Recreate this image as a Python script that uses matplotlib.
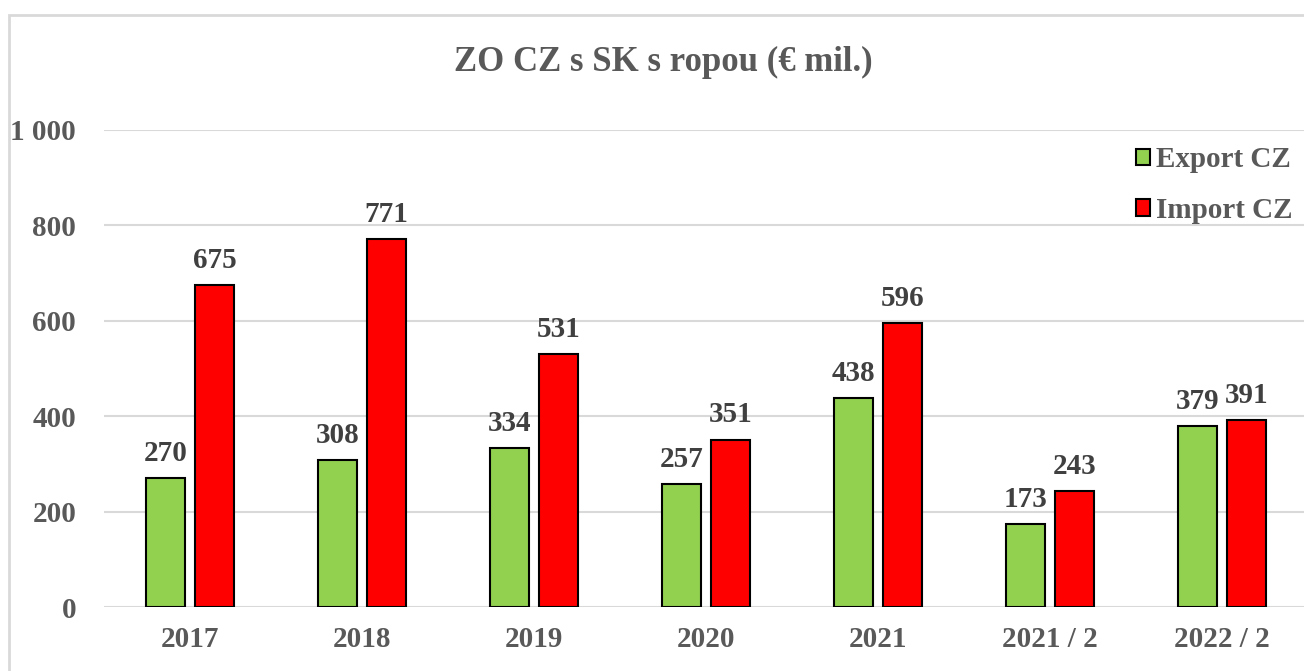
import numpy as np
import matplotlib.pyplot as plt
from matplotlib.patches import Rectangle

# Data
categories = ['2017', '2018', '2019', '2020', '2021', '2021 / 2', '2022 / 2']
export_cz = [270, 308, 334, 257, 438, 173, 379]
import_cz = [675, 771, 531, 351, 596, 243, 391]
yticks = [0, 200, 400, 600, 800, 1000]
ytick_labels = ['0', '200', '400', '600', '800', '1 000']

plt.rcParams['font.family'] = ['Liberation Serif', 'DejaVu Serif']
txt_color = '#595959'
lbl_color = '#404040'

fig = plt.figure(figsize=(13.04, 6.71), dpi=100)
ax = fig.add_axes([104 / 1304, 64 / 671, 1204 / 1304, 477 / 671])

x = np.arange(len(categories))
w = 0.23
off = 0.1425
b1 = ax.bar(x - off, export_cz, w, color='#92D050', edgecolor='black', linewidth=1.5,
            label='Export CZ', zorder=3)
b2 = ax.bar(x + off, import_cz, w, color='#FF0000', edgecolor='black', linewidth=1.5,
            label='Import CZ', zorder=3)

for bars in (b1, b2):
    ax.bar_label(bars, padding=8, fontsize=21, fontweight='bold', color=lbl_color)

ax.set_xlim(-0.5, len(categories) - 0.5)
ax.set_ylim(0, 1000)
ax.set_yticks(yticks)
ax.set_yticklabels(ytick_labels)
ax.set_xticks(x)
ax.set_xticklabels(categories)
ax.tick_params(axis='both', length=0, labelsize=21, labelcolor=txt_color)
ax.tick_params(axis='y', pad=20)
ax.tick_params(axis='x', pad=14)
for lab in ax.get_xticklabels() + ax.get_yticklabels():
    lab.set_fontweight('bold')

ax.grid(axis='y', color='#D9D9D9', linewidth=1.5, zorder=0)
for s in ax.spines.values():
    s.set_visible(False)

leg = ax.legend(loc='upper right', bbox_to_anchor=(1.009, 1.021), frameon=False,
                handlelength=0.5, handleheight=0.5, handletextpad=0.2,
                labelspacing=0.8, prop={'weight': 'bold', 'size': 21})
for t in leg.get_texts():
    t.set_color(txt_color)

fig.text(663 / 1304, 1 - 62 / 671, 'ZO CZ s SK s ropou (€ mil.)', ha='center', va='center',
         fontsize=25, fontweight='bold', color=txt_color)

# outer chart border
fig.add_artist(Rectangle((9 / 1304, -0.1), 1.2, 1 - 15 / 671 + 0.1, transform=fig.transFigure,
                         fill=False, edgecolor='#D9D9D9', linewidth=2))

fig.savefig('out.png', dpi=100)
